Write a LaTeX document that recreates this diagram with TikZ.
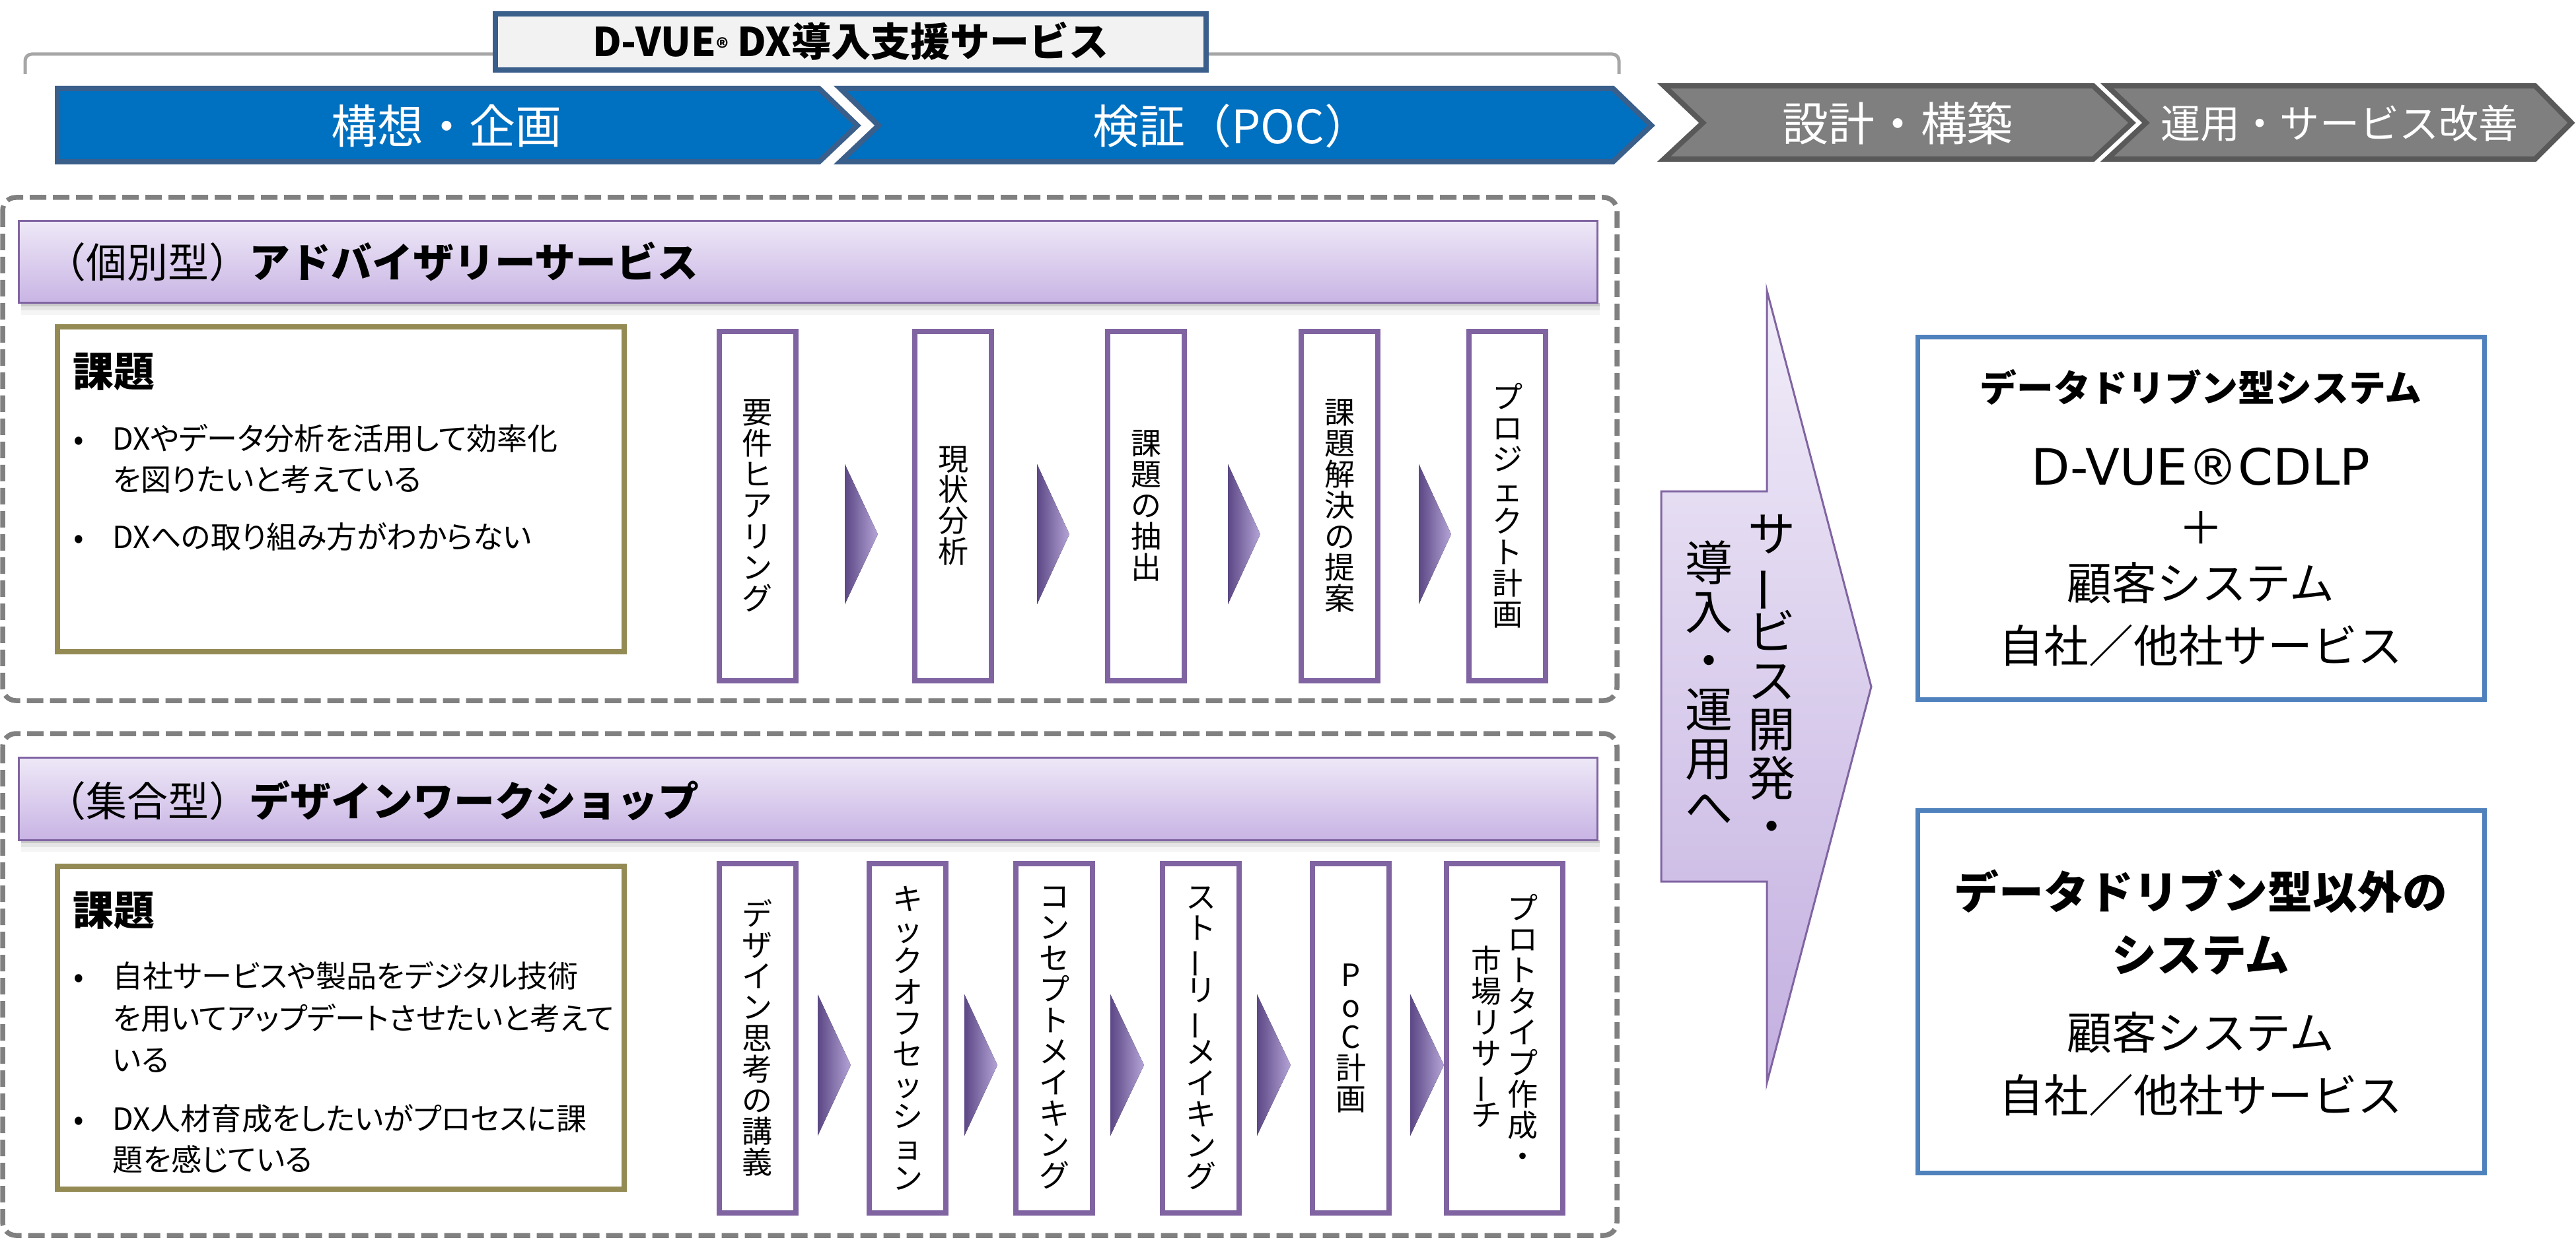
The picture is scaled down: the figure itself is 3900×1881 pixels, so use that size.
\documentclass[tikz,border=0pt]{standalone}
\usepackage{fontspec}
\usepackage{graphicx}
\setmainfont{Noto Sans CJK JP}
\newfontfamily\jpp{Noto Sans CJK JP}[RawFeature=+palt]
\newfontfamily\dvs{DejaVu Sans}
\newcommand{\tatebar}{\rotatebox[origin=c]{90}{ー}}
\newcommand{\setfs}[1]{\fontsize{#1}{#1}\selectfont}
\definecolor{cblue}{HTML}{0070C0}
\definecolor{cblueb}{HTML}{3A5F8B}
\definecolor{cgray}{HTML}{7F7F7F}
\definecolor{cgrayb}{HTML}{595959}
\definecolor{cpur}{HTML}{8064A2}
\definecolor{colive}{HTML}{948A54}
\definecolor{cbox}{HTML}{4F81BD}
\definecolor{htop}{HTML}{EEE8F7}
\definecolor{hbot}{HTML}{C8B4E4}
\definecolor{atop}{HTML}{F1EDF9}
\definecolor{abot}{HTML}{C3AFE0}
\definecolor{tdark}{HTML}{5B4785}
\definecolor{tlight}{HTML}{B4A4D6}
\definecolor{dashg}{HTML}{808080}
\definecolor{brg}{HTML}{A6A6A6}
\definecolor{tfill}{HTML}{F2F2F2}
\tikzset{
 txt/.style={inner sep=0pt, anchor=base},
 txtl/.style={inner sep=0pt, anchor=base west},
 stepbox/.style={draw=cpur, line width=0.8mm, fill=white, minimum width=11.6mm, minimum height=52.9mm, inner sep=0pt},
 vtext/.style={inner sep=0pt, align=center, font=\fontsize{13.1}{13.37}\selectfont},
 atext/.style={inner sep=0pt, align=center, font=\fontsize{20.5}{21.05}\selectfont},
 tri/.style={left color=tdark, right color=tlight, draw=none},
 dbox/.style={draw=dashg, line width=0.75mm, dash pattern=on 2.5mm off 1mm, rounded corners=2mm},
 hdr/.style={draw=cpur, line width=0.3mm, top color=htop, bottom color=hbot},
 kbox/.style={draw=colive, line width=0.8mm, fill=white},
 rbox/.style={draw=cbox, line width=0.7mm, fill=white, minimum width=85.8mm, minimum height=54.9mm, inner sep=0pt},
 blt/.style={txt, font=\setfs{13.1}},
 bline/.style={txtl, font=\jpp\setfs{13.1}},
}
\begin{document}
\lineskiplimit=-50pt
\begin{tikzpicture}[x=0.1mm,y=-0.1mm]
\useasboundingbox (0,0) rectangle (3900,1881);
% bracket and title
\draw[brg, line width=0.5mm, rounded corners=1mm] (38,112) -- (38,82) -- (2451,82) -- (2451,112);
\node[draw=cblueb, line width=0.8mm, fill=tfill, minimum width=107.6mm, minimum height=8.5mm, inner sep=0pt] (title) at (1288,63.5) {};
\node[txt, font=\bfseries\setfs{17.1}] (titlet) at (1288,86) {D-VUE{\setfs{10}®} DX導入支援サービス};
% phase chevrons
\draw[cblueb, line width=0.8mm, fill=cblue] (87,134) -- (1240,134) -- (1298,190) -- (1240,245) -- (87,245) -- cycle;
\draw[cblueb, line width=0.8mm, fill=cblue] (1272,134) -- (2442,134) -- (2500,190) -- (2442,245) -- (1272,245) -- (1330,190) -- cycle;
\draw[cgrayb, line width=0.8mm, fill=cgray] (2519,130) -- (3169,130) -- (3228,186) -- (3169,241) -- (2519,241) -- (2578,186) -- cycle;
\draw[cgrayb, line width=0.8mm, fill=cgray] (3190,130) -- (3838,130) -- (3893,186) -- (3838,241) -- (3190,241) -- (3249,186) -- cycle;
\node[txt, white, font=\setfs{19.9}] (p1) at (676,218) {構想・企画};
\node[txt, white, font=\setfs{19.9}] (p2) at (1865,218) {検証（POC）};
\node[txt, white, font=\setfs{19.9}] (p3) at (2873,214) {設計・構築};
\node[txt, white, font=\setfs{17.1}] (p4) at (3542,210) {運用・サービス改善};
% ---------- section 1
\draw[dbox] (4,299) rectangle (2448,1061);
\fill[black, opacity=0.12] (32,459) rectangle (2422,464);
\fill[black, opacity=0.07] (32,459) rectangle (2422,470);
\fill[black, opacity=0.04] (32,459) rectangle (2422,477);
\draw[hdr] (28,335) rectangle (2418,459);
\node[txtl, font=\setfs{17.6}] (h1) at (68,421) {（個別型）\textbf{アドバイザリーサービス}};
\draw[kbox] (87,495) rectangle (945,987);
\node[txtl, font=\bfseries\setfs{17.6}] (k1) at (110,586) {課題};
\node[blt] (b11) at (119,681) {•};
\node[bline] (l11) at (170,681) {DXやデータ分析を活用して効率化};
\node[bline] (l12) at (170,743) {を図りたいと考えている};
\node[blt] (b12) at (119,830) {•};
\node[bline] (l13) at (170,830) {DXへの取り組み方がわからない};
\node[stepbox, vtext] (s11) at (1147,766) {要\\件\\ヒ\\ア\\リ\\ン\\グ};
\node[stepbox, vtext] (s12) at (1443,766) {現\\状\\分\\析};
\node[stepbox, vtext] (s13) at (1735,766) {課\\題\\の\\抽\\出};
\node[stepbox, vtext] (s14) at (2028,766) {課\\題\\解\\決\\の\\提\\案};
\node[stepbox, vtext] (s15) at (2282,766) {プ\\ロ\\ジ\\ェ\\ク\\ト\\計\\画};
\fill[tri] (1279,703) -- (1329,809) -- (1279,915) -- cycle;
\fill[tri] (1570,703) -- (1619,809) -- (1570,915) -- cycle;
\fill[tri] (1859,703) -- (1908,809) -- (1859,915) -- cycle;
\fill[tri] (2148,703) -- (2197,809) -- (2148,915) -- cycle;
% ---------- section 2
\draw[dbox] (4,1111) rectangle (2448,1871);
\fill[black, opacity=0.12] (32,1272) rectangle (2422,1277);
\fill[black, opacity=0.07] (32,1272) rectangle (2422,1283);
\fill[black, opacity=0.04] (32,1272) rectangle (2422,1290);
\draw[hdr] (28,1147) rectangle (2418,1272);
\node[txtl, font=\setfs{17.6}] (h2) at (68,1236) {（集合型）\textbf{デザインワークショップ}};
\draw[kbox] (87,1312) rectangle (945,1801);
\node[txtl, font=\bfseries\setfs{17.6}] (k2) at (110,1401) {課題};
\node[blt] (b21) at (119,1495) {•};
\node[bline] (l21) at (170,1495) {自社サービスや製品をデジタル技術};
\node[bline] (l22) at (170,1559) {を用いてアップデートさせたいと考えて};
\node[bline] (l23) at (170,1622) {いる};
\node[blt] (b22) at (119,1711) {•};
\node[bline] (l24) at (170,1711) {DX人材育成をしたいがプロセスに課};
\node[bline] (l25) at (170,1773) {題を感じている};
\node[stepbox, vtext] (s21) at (1147,1572) {デ\\ザ\\イ\\ン\\思\\考\\の\\講\\義};
\node[stepbox, vtext] (s22) at (1374,1572) {キ\\ッ\\ク\\オ\\フ\\セ\\ッ\\シ\\ョ\\ン};
\node[stepbox, vtext] (s23) at (1596,1572) {コ\\ン\\セ\\プ\\ト\\メ\\イ\\キ\\ン\\グ};
\node[stepbox, vtext] (s24) at (1818,1572) {ス\\ト\\\tatebar\\リ\\\tatebar\\メ\\イ\\キ\\ン\\グ};
\node[stepbox, vtext] (s25) at (2045,1572) {P\\o\\C\\計\\画};
\node[stepbox, minimum width=17.6mm] (s26) at (2278,1572) {};
\node[vtext] (s26a) at (2305,1561) {プ\\ロ\\ト\\タ\\イ\\プ\\作\\成\\・};
\node[vtext] (s26b) at (2250,1570) {市\\場\\リ\\サ\\\tatebar\\チ};
\fill[tri] (1238,1506) -- (1288,1613) -- (1238,1720) -- cycle;
\fill[tri] (1460,1506) -- (1510,1613) -- (1460,1720) -- cycle;
\fill[tri] (1681,1506) -- (1732,1613) -- (1681,1720) -- cycle;
\fill[tri] (1903,1506) -- (1954,1613) -- (1903,1720) -- cycle;
\fill[tri] (2135,1506) -- (2186,1613) -- (2135,1720) -- cycle;
% ---------- big arrow
\draw[cpur, line width=0.3mm, top color=atop, bottom color=abot] (2515,744) -- (2675,744) -- (2675,440) -- (2833,1040) -- (2675,1640) -- (2675,1335) -- (2515,1335) -- cycle;
\node[atext] (a1) at (2682,1029) {サ\\\tatebar\\ビ\\ス\\開\\発\\・};
\node[atext] (a2) at (2587,1034) {導\\入\\・\\運\\用\\へ};
% ---------- right boxes
\node[rbox] (r1) at (3332,784.5) {};
\node[txt, font=\bfseries\setfs{15.9}] (r1a) at (3332,609) {データドリブン型システム};
\node[txt, font=\dvs\setfs{21.6}] (r1b) at (3332,734) {D-VUE®CDLP};
\node[txt, font=\setfs{19.3}] (r1c) at (3332,824) {＋};
\node[txt, font=\setfs{19.3}] (r1d) at (3332,908) {顧客システム};
\node[txt, font=\setfs{19.3}] (r1e) at (3332,1003) {自社／他社サービス};
\node[rbox] (r2) at (3332,1502) {};
\node[txt, font=\bfseries\setfs{19.3}] (r2a) at (3332,1376) {データドリブン型以外の};
\node[txt, font=\bfseries\setfs{19.3}] (r2b) at (3332,1471) {システム};
\node[txt, font=\setfs{19.3}] (r2c) at (3332,1589) {顧客システム};
\node[txt, font=\setfs{19.3}] (r2d) at (3332,1684) {自社／他社サービス};
\end{tikzpicture}
\end{document}
